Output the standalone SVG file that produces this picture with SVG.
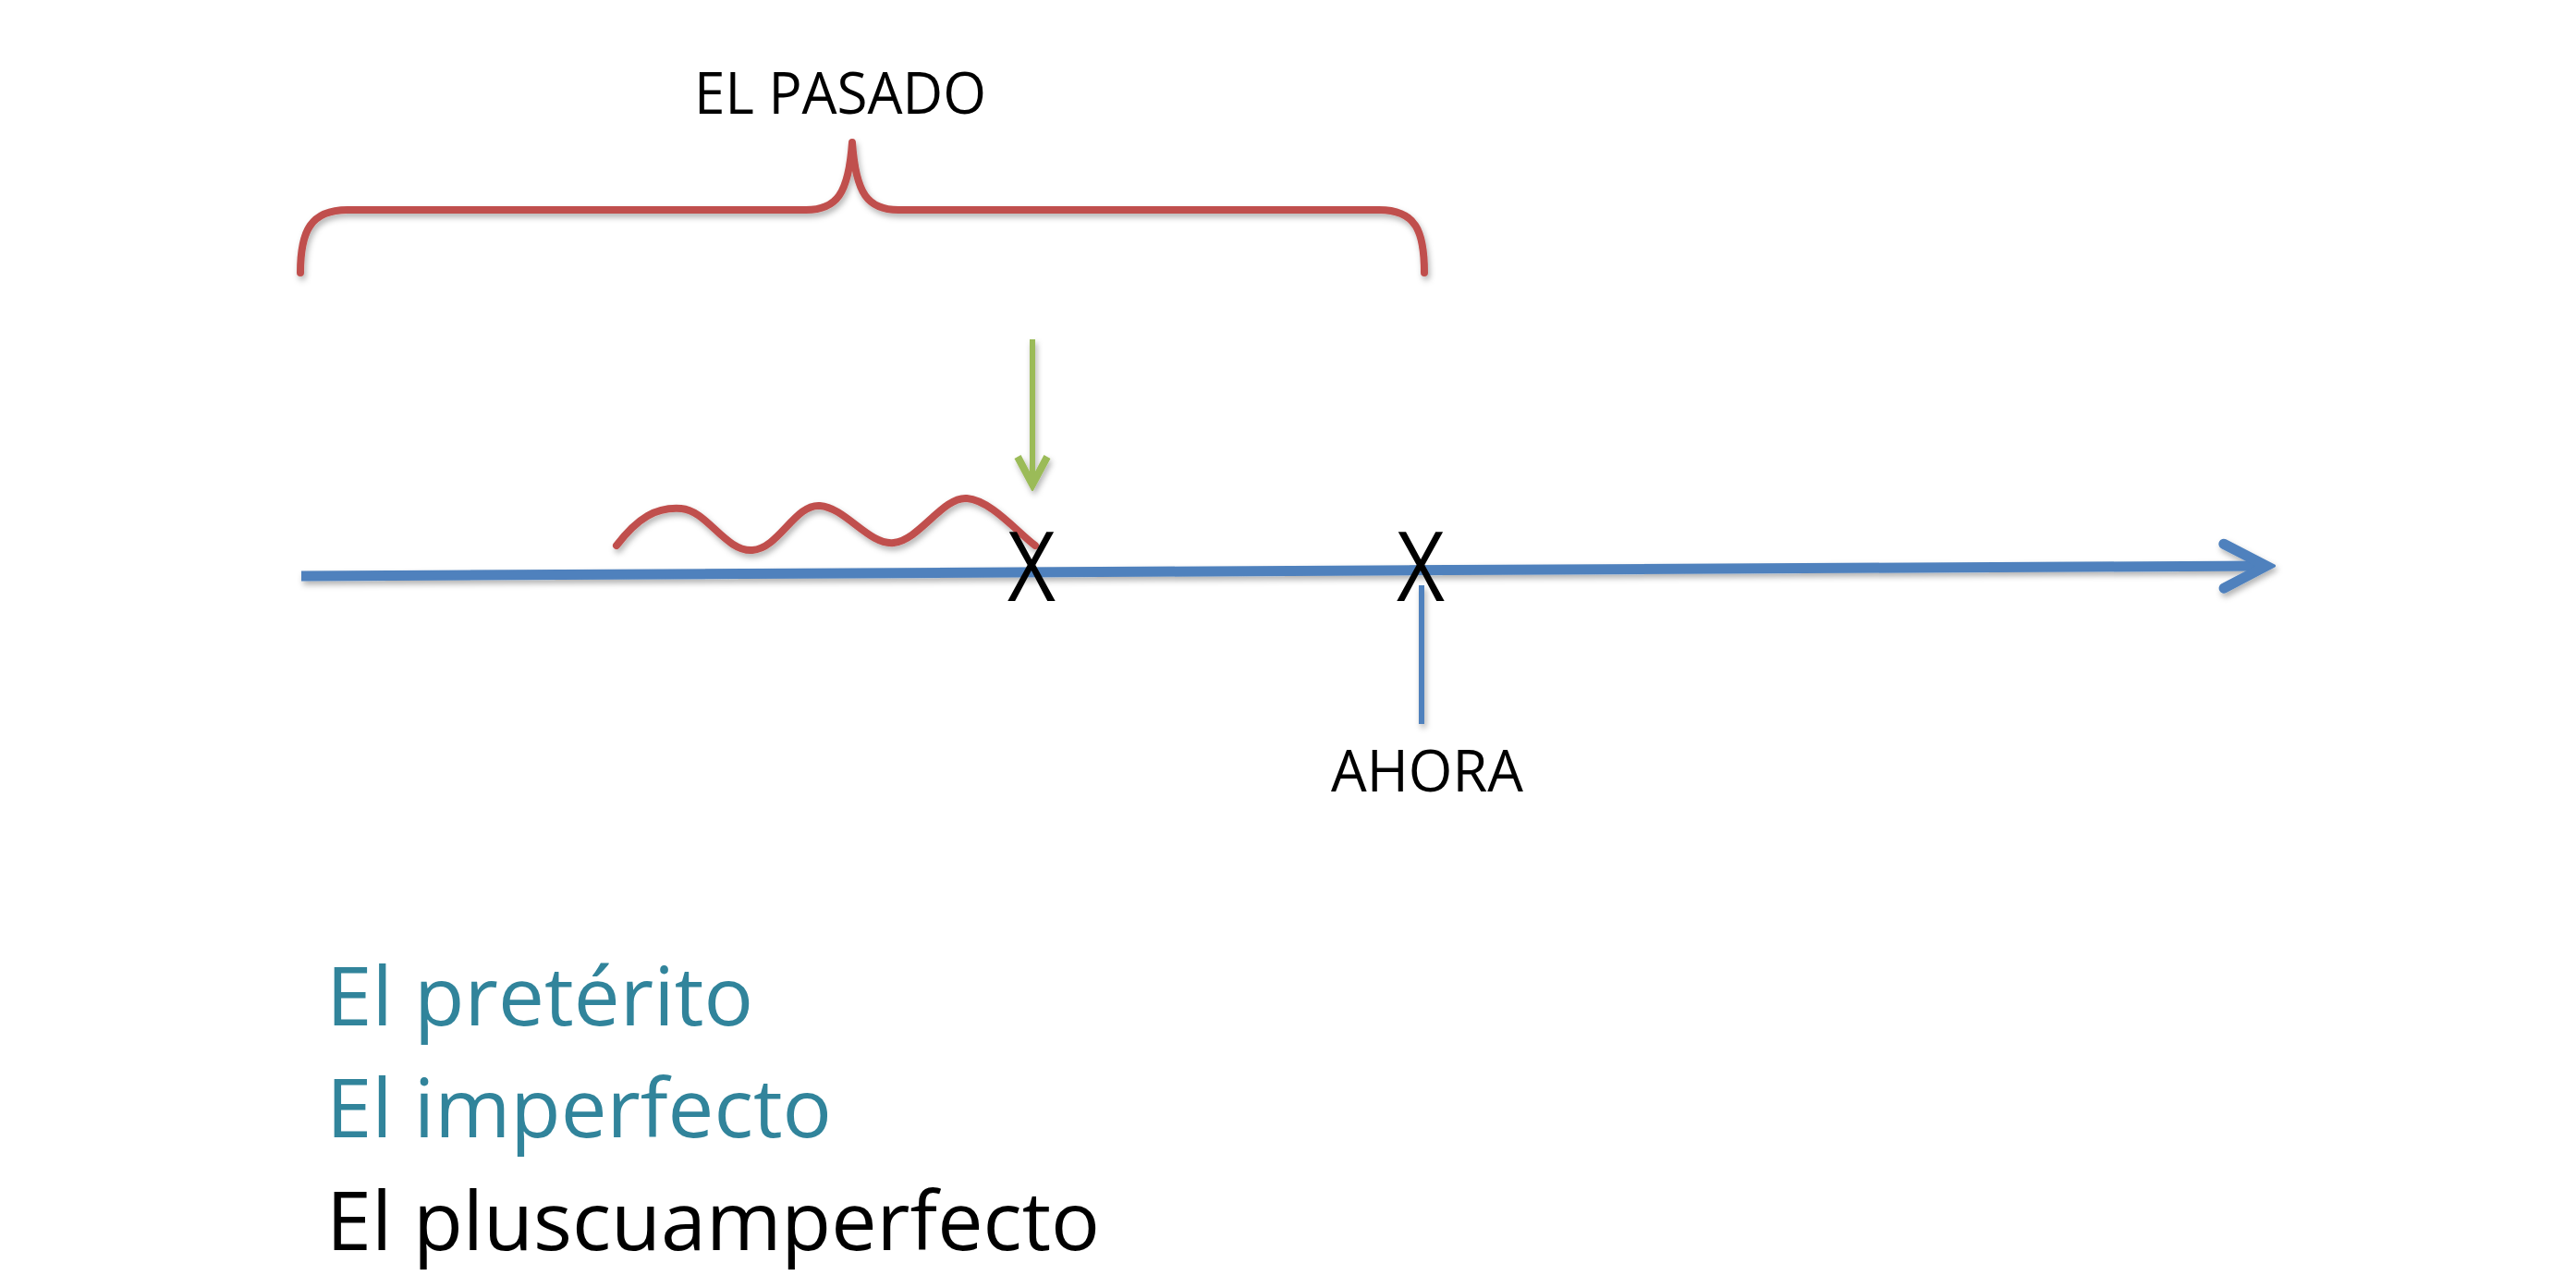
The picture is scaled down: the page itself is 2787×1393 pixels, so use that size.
<svg xmlns="http://www.w3.org/2000/svg" width="2787" height="1393" viewBox="0 0 2787 1393">
<style>
text{font-family:"Open Sans","Noto Sans","Liberation Sans",sans-serif;}
.lbl{font-size:63px;fill:#000;}
.big{font-size:87px;}
.teal{fill:#31849B;}
.blk{fill:#000;}
.x{font-size:104px;fill:#000;text-anchor:middle;}
.red{fill:none;stroke:#C0504D;stroke-linecap:round;stroke-linejoin:round;}
.blue{fill:none;stroke:#4F81BD;}
.green{fill:none;stroke:#9BBB59;}
</style>
<defs>
<filter id="sh" filterUnits="userSpaceOnUse" x="0" y="0" width="2787" height="1393">
<feDropShadow dx="2" dy="4" stdDeviation="3" flood-color="#000" flood-opacity="0.3"/>
</filter>
<marker id="openBlue" markerUnits="userSpaceOnUse" viewBox="-60 -35 70 70" refX="0" refY="0" markerWidth="70" markerHeight="70" orient="auto">
<path d="M-46,-24 L0,0 L-46,24" fill="none" stroke="#4F81BD" stroke-width="11" stroke-linecap="round" stroke-linejoin="miter"/>
</marker>
<marker id="openGreen" markerUnits="userSpaceOnUse" viewBox="-45 -25 50 50" refX="0" refY="0" markerWidth="50" markerHeight="50" orient="auto">
<path d="M-32,-16 L-2,0 L-32,16" fill="none" stroke="#9BBB59" stroke-width="8" stroke-linejoin="miter"/>
</marker>
</defs>
<rect width="2787" height="1393" fill="#fff"/>
<g id="connectors" filter="url(#sh)">
<path id="brace" class="red" stroke-width="8" d="M325,295 C325,250 336,227 376,227 L872,227 C905,227 918,210 922,154 C926,210 939,227 972,227 L1492,227 C1532,227 1541,250 1541,295"/>
<path id="wave" class="red" stroke-width="8" stroke-linecap="butt" d="M667,590 C690,560 710,548 737,550 C765,552 785,597 814,595 C843,593 860,545 887,547 C915,549 940,590 967,587 C995,584 1020,537 1046,539 C1072,541 1100,575 1120,590"/>
<path id="timeline" class="blue" stroke-width="11" d="M326,623 L2452,612" marker-end="url(#openBlue)"/>
<path id="ahora-tick" class="blue" stroke-width="6" d="M1538,633 L1538,783"/>
<path id="green-arrow" class="green" stroke-width="6" d="M1117,367 L1117,526" marker-end="url(#openGreen)"/>
</g>
<g id="x1"><text class="x" x="1116" y="650" textLength="52" lengthAdjust="spacingAndGlyphs">X</text></g>
<g id="x2"><text class="x" x="1537" y="650" textLength="52" lengthAdjust="spacingAndGlyphs">X</text></g>
<g id="pasado"><text class="lbl" x="751" y="123" textLength="316" lengthAdjust="spacingAndGlyphs">EL PASADO</text></g>
<g id="ahora"><text class="lbl" x="1440" y="856" textLength="208" lengthAdjust="spacingAndGlyphs">AHORA</text></g>
<g id="preterito"><text class="big teal" x="353" y="1109" textLength="462" lengthAdjust="spacingAndGlyphs">El pretérito</text></g>
<g id="imperfecto"><text class="big teal" x="353" y="1230" textLength="547" lengthAdjust="spacingAndGlyphs">El imperfecto</text></g>
<g id="pluscuamperfecto"><text class="big blk" x="353" y="1352" textLength="837" lengthAdjust="spacingAndGlyphs">El pluscuamperfecto</text></g>
</svg>
